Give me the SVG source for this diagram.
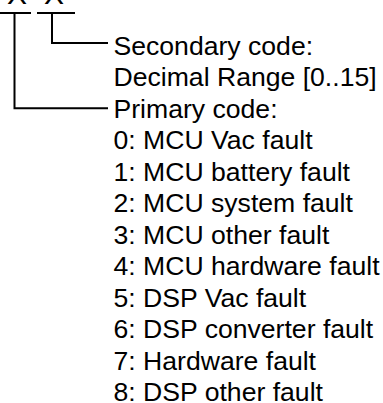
<svg xmlns="http://www.w3.org/2000/svg" width="383" height="403" viewBox="0 0 383 403">
<style>
.t{font-family:"Liberation Sans",Arial,sans-serif;font-size:26.6px;fill:#000}
.x{font-family:"Liberation Sans",Arial,sans-serif;font-size:30px;fill:#000;text-anchor:middle}
.c{stroke:#000;stroke-width:2;fill:none;stroke-linecap:butt}
</style>
<rect width="383" height="403" fill="#fff"/>
<g id="code">
<text class="x" x="17" y="4">X</text>
<text class="x" x="54" y="4">X</text>
</g>
<g id="connectors">
<line class="c" x1="0" y1="13" x2="31" y2="13"/>
<line class="c" x1="37" y1="13" x2="75" y2="13"/>
<polyline class="c" points="14.5,13 14.5,108.3 108,108.3"/>
<polyline class="c" points="52,13 52,43 108,43"/>
</g>
<g id="secondary">
<text class="t" x="113.5" y="54.5">Secondary code:</text>
<text class="t" x="113.5" y="86">Decimal Range [0..15]</text>
</g>
<g id="primary">
<text class="t" x="113.5" y="117.5">Primary code:</text>
<text class="t" x="113.5" y="149">0: MCU Vac fault</text>
<text class="t" x="113.5" y="180.5">1: MCU battery fault</text>
<text class="t" x="113.5" y="212">2: MCU system fault</text>
<text class="t" x="113.5" y="243.5">3: MCU other fault</text>
<text class="t" x="113.5" y="275">4: MCU hardware fault</text>
<text class="t" x="113.5" y="306.5">5: DSP Vac fault</text>
<text class="t" x="113.5" y="338">6: DSP converter fault</text>
<text class="t" x="113.5" y="369.5">7: Hardware fault</text>
<text class="t" x="113.5" y="400.5">8: DSP other fault</text>
</g>
</svg>
